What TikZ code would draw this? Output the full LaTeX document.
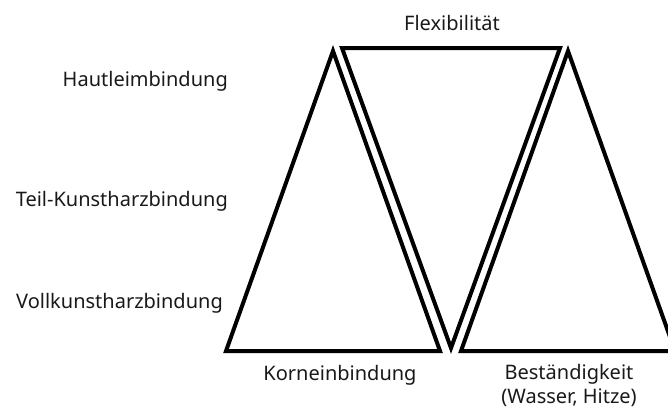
\documentclass[tikz,border=0pt]{standalone}
\usepackage{fontspec}
\setmainfont{Noto Sans}
\usetikzlibrary{positioning}
\begin{document}
\begin{tikzpicture}[x=1pt,y=-1pt,font=\fontsize{20}{24}\selectfont]
\tikzset{tri/.style={draw=black,line width=4pt,line join=miter},
  lbl/.style={inner sep=0pt,text=black!90}}
\useasboundingbox (0,0) rectangle (668,408);
\clip (0,0) rectangle (668,408);
% triangles
\coordinate (la) at (333,51);
\coordinate (ra) at (568,51);
\draw[tri] (la) -- (226,351) -- (440,351) -- cycle;
\draw[tri] (342,48) -- (560,48) -- (451,348) -- cycle;
\draw[tri] (ra) -- (461,351) -- (675,351) -- cycle;
% labels
\node[lbl,anchor=base] (flex) at (452,30) {Flexibilität};
\node[lbl,anchor=base east] (haut) at (228,86) {Hautleimbindung};
\node[lbl,anchor=base east] (teil) at (228,206) {Teil-Kunstharzbindung};
\node[lbl,anchor=base east] (voll) at (223,308) {Vollkunstharzbindung};
\node[lbl,anchor=base] (korn) at (340,380) {Korneinbindung};
\node[lbl,anchor=base,align=center] (best) at (569,403) {Beständigkeit\\(Wasser, Hitze)};
\end{tikzpicture}
\end{document}
